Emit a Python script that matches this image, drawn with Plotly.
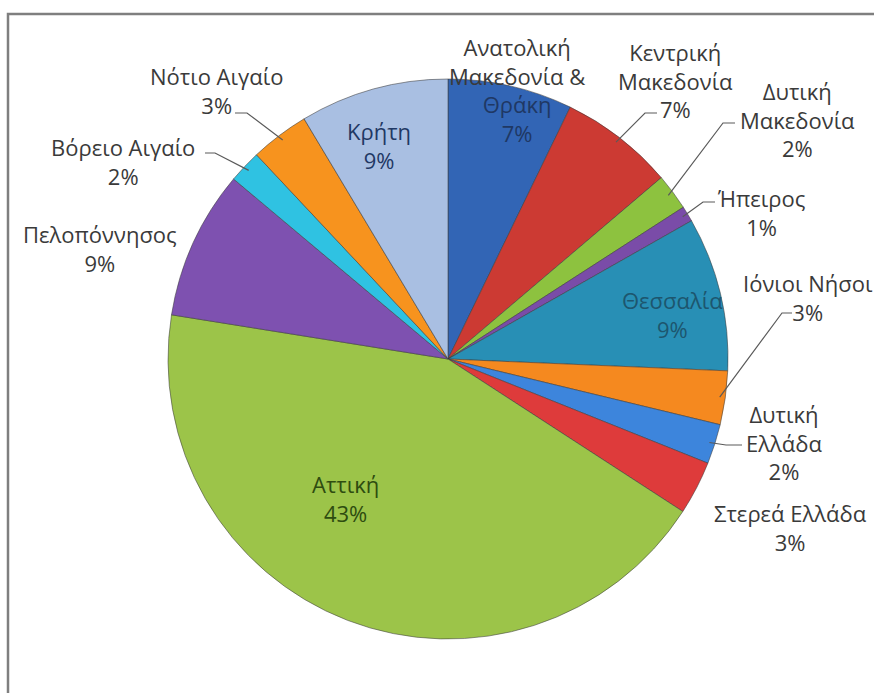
import math
import plotly.graph_objects as go

# ---------------- data ----------------
regions = ["Ανατολική Μακεδονία & Θράκη", "Κεντρική Μακεδονία", "Δυτική Μακεδονία",
           "Ήπειρος", "Θεσσαλία", "Ιόνιοι Νήσοι", "Δυτική Ελλάδα", "Στερεά Ελλάδα",
           "Αττική", "Πελοπόννησος", "Βόρειο Αιγαίο", "Νότιο Αιγαίο", "Κρήτη"]
shares = [7.2, 6.6, 2.1, 0.9, 8.9, 3.1, 2.3, 3.1, 43.4, 8.6, 1.9, 3.4, 8.6]
label_text = ["Ανατολική<br>Μακεδονία &<br>Θράκη", "Κεντρική<br>Μακεδονία", "Δυτική<br>Μακεδονία",
              "Ήπειρος", "Θεσσαλία", "Ιόνιοι Νήσοι", "Δυτική<br>Ελλάδα", "Στερεά Ελλάδα",
              "Αττική", "Πελοπόννησος", "Βόρειο Αιγαίο", "Νότιο Αιγαίο", "Κρήτη"]
colors = ["#3265b5", "#cc3a33", "#8dc23f", "#7a4ca8", "#288fb5", "#f5891f", "#3d85dc",
          "#de3b3b", "#9cc449", "#7e51b0", "#2fc2e2", "#f7931e", "#a9bfe2"]

# ---------------- layout geometry (pixels) ----------------
W, H = 874, 693
CX, CY, R = 448, 359, 280

def paper(px, py):
    return px / W, 1 - py / H

total = sum(shares)
pct = [f"{round(100 * v / total)}%" for v in shares]

# label block centres (px) and colours
label_pos = [(517, 90), (675, 80), (797, 119), (761, 213), (672, 314), (808, 297),
             (784, 442), (790, 527), (345, 498), (100, 248), (123, 162), (216, 91), (379, 145)]
label_col = ["#3a3a3a", "#3a3a3a", "#3a3a3a", "#3a3a3a", "#1d566e", "#3a3a3a",
             "#3a3a3a", "#3a3a3a", "#2e4c10", "#3a3a3a", "#3a3a3a", "#3a3a3a", "#1f3864"]

# leader lines: slice index -> (elbow px, end px)
leaders = {1: ((645, 113), (657, 113)),
           2: ((723, 123), (735, 123)),
           3: ((703, 202), (715, 202)),
           5: ((782, 313), (792, 313)),
           6: ((726, 445), (742, 445)),
           10: ((215, 153), (205, 153)),
           11: ((247, 113), (235, 113))}

fig = go.Figure()
fig.add_trace(go.Pie(
    labels=regions, values=shares, sort=False, direction="clockwise", rotation=0,
    marker=dict(colors=colors, line=dict(color="rgba(60,60,60,0.55)", width=1)),
    textinfo="none", hoverinfo="label+percent", showlegend=False,
    domain=dict(x=[(CX - R) / W, (CX + R) / W], y=[(H - CY - R) / H, (H - CY + R) / H]),
))

annotations = []
for i, (txt, (px, py), col) in enumerate(zip(label_text, label_pos, label_col)):
    if i == 0:
        text = ("<span style='color:#3a3a3a'>Ανατολική<br>Μακεδονία &</span><br>"
                f"<span style='color:#1f3864'>Θράκη<br>{pct[i]}</span>")
    else:
        text = f"{txt}<br>{pct[i]}"
    x, y = paper(px, py)
    annotations.append(dict(x=x, y=y, xref="paper", yref="paper", text=text,
                             showarrow=False, xanchor="center", yanchor="middle",
                             align="center", font=dict(color=col, size=22,
                                                        family="Open Sans, Noto Sans, sans-serif")))

shapes = []
# frame
shapes.append(dict(type="rect", xref="paper", yref="paper",
                   x0=8 / W, x1=1.02, y0=-0.02, y1=1 - 14 / H,
                   line=dict(color="#7f7f7f", width=2.5), fillcolor="rgba(0,0,0,0)", layer="below"))

cum = 0.0
mids = []
for v in shares:
    mids.append((cum + v / 2) / total * 2 * math.pi)
    cum += v
for i, (elb, end) in leaders.items():
    a = mids[i]
    rx, ry = CX + R * 0.98 * math.sin(a), CY - R * 0.98 * math.cos(a)
    p0 = paper(rx, ry)
    p1 = paper(*elb)
    p2 = paper(*end)
    shapes.append(dict(type="path", xref="paper", yref="paper",
                       path=f"M {p0[0]},{p0[1]} L {p1[0]},{p1[1]} L {p2[0]},{p2[1]}",
                       line=dict(color="#5a5a5a", width=1.2)))

fig.update_layout(width=W, height=H, margin=dict(l=0, r=0, t=0, b=0),
                  paper_bgcolor="white", plot_bgcolor="white",
                  annotations=annotations, shapes=shapes)
fig.write_html("out.html", config={"displayModeBar": False},
               post_script="document.body.style.margin='0';document.body.style.overflow='hidden';")
